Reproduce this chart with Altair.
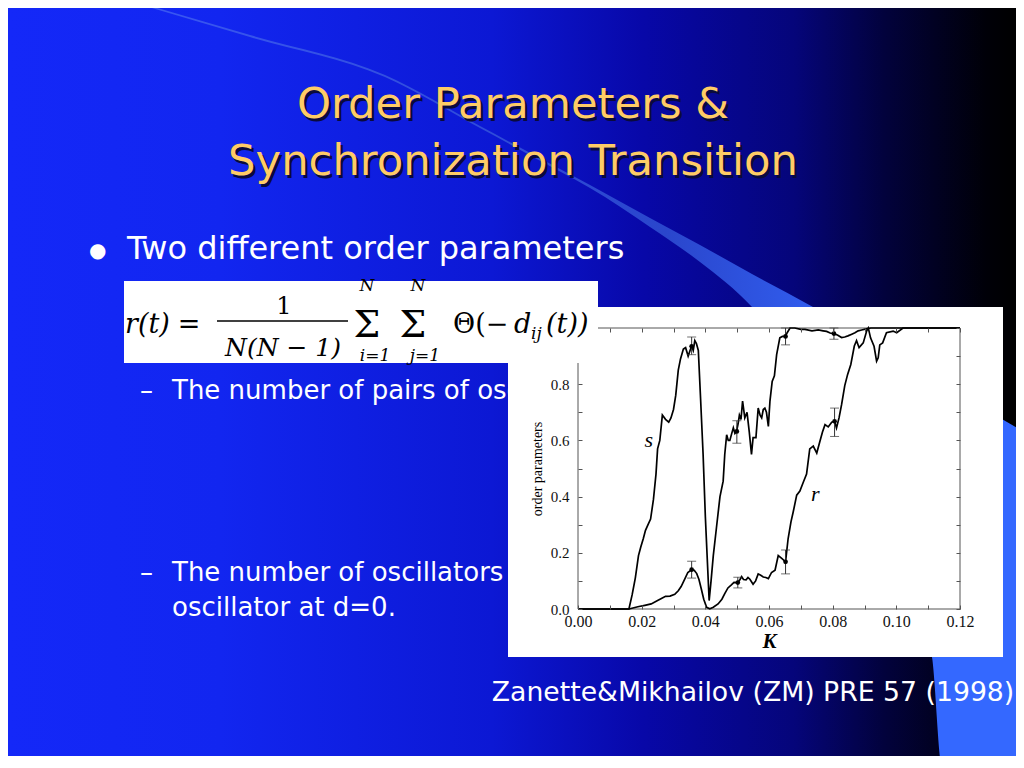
import altair as alt
import pandas as pd

# ---------------- data ----------------
s_K = [0.0, 0.0160, 0.0170, 0.0180, 0.0190, 0.0197, 0.0205, 0.0212, 0.0220, 0.0228,
       0.0237, 0.0245, 0.0250, 0.0257, 0.0265, 0.0275, 0.0285, 0.0292, 0.0300, 0.0307,
       0.0315, 0.0322, 0.0331, 0.0338, 0.0346, 0.0352, 0.0357, 0.0362, 0.0367, 0.0372,
       0.0378, 0.0385, 0.0393, 0.0400, 0.0406, 0.0412, 0.0418, 0.0425, 0.0435, 0.0446,
       0.0456, 0.0461, 0.0467, 0.0472, 0.0477, 0.0483, 0.0488, 0.0493, 0.0498, 0.0503,
       0.0507, 0.0512, 0.0517, 0.0524, 0.0531, 0.0538, 0.0545, 0.0550, 0.0559, 0.0566,
       0.0572, 0.0577, 0.0582, 0.0587, 0.0592, 0.0598, 0.0603, 0.0610, 0.0617, 0.0624,
       0.0634, 0.0642, 0.0650, 0.0658, 0.0666, 0.0681, 0.0700, 0.0713, 0.0735, 0.0755,
       0.0770, 0.0781, 0.0792, 0.0801, 0.0815, 0.0828, 0.0838, 0.0848, 0.0860, 0.0870,
       0.0880, 0.0891, 0.0905, 0.0920, 0.1000, 0.1100, 0.1200]
s_val = [0.0, 0.0, 0.05, 0.11, 0.19, 0.22, 0.25, 0.28, 0.30, 0.32,
         0.39, 0.48, 0.57, 0.60, 0.69, 0.675, 0.665, 0.68, 0.71, 0.76,
         0.85, 0.89, 0.925, 0.93, 0.90, 0.92, 0.935, 0.92, 0.955, 0.945,
         0.92, 0.75, 0.55, 0.33, 0.18, 0.03, 0.10, 0.19, 0.29, 0.40,
         0.455, 0.55, 0.62, 0.60, 0.60, 0.625, 0.645, 0.625, 0.632, 0.66,
         0.69, 0.675, 0.74, 0.68, 0.70, 0.63, 0.55, 0.61, 0.61, 0.715,
         0.69, 0.68, 0.71, 0.715, 0.70, 0.65, 0.74, 0.81, 0.83, 0.905,
         0.965, 0.97, 0.97, 0.985, 1.0, 1.0, 0.995, 0.995, 0.99, 0.993,
         0.99, 0.988, 0.982, 0.98, 0.975, 0.966, 0.968, 0.972, 0.978, 0.983,
         0.99, 0.993, 0.997, 1.0, 1.0, 1.0, 1.0]

r_K = [0.0, 0.0160, 0.0188, 0.0210, 0.0230, 0.0250, 0.0262, 0.0275, 0.0289, 0.0304,
       0.0315, 0.0324, 0.0336, 0.0345, 0.0357, 0.0365, 0.0373, 0.0380, 0.0387, 0.0395,
       0.0404, 0.0414, 0.0425, 0.0440, 0.0452, 0.0461, 0.0471, 0.0481, 0.0490, 0.0502,
       0.0509, 0.0514, 0.0520, 0.0528, 0.0534, 0.0540, 0.0550, 0.0558, 0.0566, 0.0574,
       0.0582, 0.0590, 0.0598, 0.0608, 0.0619, 0.0629, 0.0640, 0.0652, 0.0660, 0.0669,
       0.0676, 0.0687, 0.0697, 0.0708, 0.0718, 0.0728, 0.0739, 0.0750, 0.0760, 0.0768,
       0.0776, 0.0786, 0.0797, 0.0806, 0.0812, 0.0820, 0.0828, 0.0838, 0.0847, 0.0857,
       0.0868, 0.0875, 0.0883, 0.0896, 0.0907, 0.0912, 0.0919, 0.0930, 0.0938, 0.0943,
       0.0948, 0.0957, 0.0969, 0.0990, 0.1001, 0.1021, 0.1100, 0.1200]
r_val = [0.0, 0.0, 0.008, 0.013, 0.018, 0.030, 0.037, 0.045, 0.046, 0.052,
         0.065, 0.080, 0.108, 0.130, 0.140, 0.138, 0.126, 0.105, 0.073, 0.035,
         0.006, 0.001, 0.006, 0.018, 0.035, 0.055, 0.075, 0.085, 0.095, 0.094,
         0.105, 0.115, 0.105, 0.104, 0.112, 0.106, 0.088, 0.100, 0.125, 0.120,
         0.114, 0.112, 0.108, 0.130, 0.138, 0.190, 0.180, 0.168, 0.250, 0.310,
         0.345, 0.405, 0.420, 0.452, 0.480, 0.570, 0.580, 0.555, 0.597, 0.630,
         0.656, 0.648, 0.665, 0.668, 0.644, 0.680, 0.727, 0.795, 0.835, 0.870,
         0.936, 0.955, 0.930, 0.947, 0.990, 1.0, 0.965, 0.935, 0.882, 0.894,
         0.940, 0.947, 0.983, 0.989, 0.983, 1.0, 1.0, 1.0]

err_K = [0.0357, 0.0499, 0.0652, 0.0804, 0.0357, 0.0502, 0.0652, 0.0806]
err_mid = [0.935, 0.632, 0.970, 0.980, 0.140, 0.094, 0.168, 0.668]
err_lo = [0.905, 0.590, 0.940, 0.960, 0.110, 0.075, 0.125, 0.614]
err_hi = [0.968, 0.670, 1.000, 1.000, 0.170, 0.113, 0.210, 0.715]

curve_names = ["s", "r"]
curve_label_K = [0.0222, 0.0745]
curve_label_v = [0.600, 0.410]

x_tick_values = [0.00, 0.01, 0.02, 0.03, 0.04, 0.05, 0.06, 0.07, 0.08, 0.09, 0.10, 0.11, 0.12]
y_tick_values = [0.0, 0.1, 0.2, 0.3, 0.4, 0.5, 0.6, 0.7, 0.8, 0.9, 1.0]

title_lines = ["Order Parameters &", "Synchronization Transition"]
bullet_text = "Two different order parameters"
sub1_text = "The number of pairs of oscillators at d=0"
sub2a_text = "The number of oscillators in the cluster of the"
sub2b_text = "oscillator at d=0."
citation_text = "Zanette&Mikhailov (ZM) PRE 57 (1998)"

# ---------------- layout (page pixels) ----------------
OX, OY = 578, 328          # page position of the plot origin (K=0, top)
W, H = 382, 281
TOTAL_W, TOTAL_H = 1008, 748


def P(x):
    return x - OX


def Q(y):
    return y - OY


xs = alt.Scale(domain=[0, 0.12], nice=False, zero=False)
ys = alt.Scale(domain=[0, 1], nice=False, zero=False)


def text_layer(rows, font, color, align="left", style="normal", weight="normal",
               baseline="alphabetic"):
    df = pd.DataFrame(rows, columns=["t", "x", "y", "fs"])
    df["x"] = df["x"] - OX
    df["y"] = df["y"] - OY
    return alt.Chart(df).mark_text(
        font=font, color=color, align=align, fontStyle=style,
        fontWeight=weight, baseline=baseline
    ).encode(
        x=alt.X("x:Q", scale=None, axis=None),
        y=alt.Y("y:Q", scale=None, axis=None),
        size=alt.Size("fs:Q", scale=None, legend=None),
        text="t:N",
    )


one = pd.DataFrame({"a": [0]})

# background gradient
bg_grad = alt.LinearGradient(
    gradient="linear", x1=0, x2=1, y1=0, y2=0,
    stops=[
        alt.GradientStop(color="#1428f8", offset=0.0),
        alt.GradientStop(color="#1226f0", offset=0.21),
        alt.GradientStop(color="#0c18d4", offset=0.48),
        alt.GradientStop(color="#0808a8", offset=0.63),
        alt.GradientStop(color="#05057a", offset=0.78),
        alt.GradientStop(color="#02023c", offset=0.87),
        alt.GradientStop(color="#000008", offset=0.97),
        alt.GradientStop(color="#000000", offset=1.0),
    ],
)
background = alt.Chart(one).mark_rect(color=bg_grad).encode(
    x=alt.value(P(8)), x2=alt.value(P(8 + TOTAL_W)), y=alt.value(Q(8)), y2=alt.value(Q(8 + TOTAL_H))
)

# decorative ribbon
rib_x = [130, 250, 385, 480, 560, 590, 650, 700, 752, 813, 850, 900, 932, 942, 980, 1024]
rib_top = [0, 35, 75, 126, 169, 185, 218, 245, 274, 307, 329, 358, 377, 383, 406, 432]
rib_bot = [1.5, 37, 77, 128, 171.5, 188, 227, 262, 307, 390, 460, 565, 657, 768, 768, 768]
rib_df = pd.DataFrame({"x": [P(v) for v in rib_x], "y": [Q(v) for v in rib_top],
                       "y2": [Q(v) for v in rib_bot]})
rib_grad = alt.LinearGradient(
    gradient="linear", x1=0, x2=1, y1=0, y2=0,
    stops=[
        alt.GradientStop(color="#3a58f4", offset=0.0),
        alt.GradientStop(color="#2a46cc", offset=0.6),
        alt.GradientStop(color="#3468ff", offset=0.85),
        alt.GradientStop(color="#3468ff", offset=1.0),
    ],
)
ribbon = alt.Chart(rib_df).mark_area(color=rib_grad, interpolate="monotone").encode(
    x=alt.X("x:Q", scale=None, axis=None),
    y=alt.Y("y:Q", scale=None, axis=None),
    y2="y2:Q",
)

SANS = "DejaVu Sans"
title_shadow = text_layer([(title_lines[0], 515.5, 120.5, 43.3), (title_lines[1], 515.5, 177.5, 43.3)],
                          SANS, "#0a0a3c", align="center")
title = text_layer([(title_lines[0], 513, 118, 43.3), (title_lines[1], 513, 175, 43.3)],
                   SANS, "#ffcc66", align="center")
bullet_dot = text_layer([("●", 89, 257, 20)], SANS, "white")
bullets = text_layer([
    (bullet_text, 127, 259, 32),
    ("–", 140, 399, 26), (sub1_text, 172, 399, 26),
    ("–", 140, 581, 26), (sub2a_text, 172, 581, 26),
    (sub2b_text, 172, 616, 26),
], SANS, "white")
citation = text_layer([(citation_text, 753, 701, 26.7)], SANS, "white", align="center")

# white figure panel
panel = alt.Chart(one).mark_rect(color="white").encode(
    x=alt.value(P(508)), x2=alt.value(P(1003)), y=alt.value(Q(307)), y2=alt.value(Q(657))
)

frame_df = pd.DataFrame({"x1": [0, 0.12, 0, 0], "x2": [0, 0.12, 0.12, 0.12],
                         "y1": [0, 0, 0, 1], "y2": [1, 1, 0, 1]})
frame = alt.Chart(frame_df).mark_rule(color="#555555", strokeWidth=1).encode(
    x=alt.X("x1:Q", scale=xs, axis=None), x2="x2:Q",
    y=alt.Y("y1:Q", scale=ys, axis=None), y2="y2:Q",
)

SERIF = "Liberation Serif"
AX = dict(domain=False, grid=False, tickSize=4, offset=-4, tickColor="#555555",
          tickWidth=1, zindex=1, labelOverlap=False)

x_bottom = alt.Axis(
    orient="bottom", values=x_tick_values,
    labelExpr="round(datum.value*100) % 2 == 0 ? format(datum.value, '.2f') : ''",
    labelFont=SERIF, labelFontSize=16, labelColor="#111111", labelPadding=4,
    labelFlush=False, title="K", titleFont=SERIF, titleFontSize=21,
    titleFontStyle="italic", titleFontWeight="bold", titleColor="black",
    titlePadding=1, **AX)
y_left = alt.Axis(
    orient="left", values=y_tick_values[:9],
    labelExpr="round(datum.value*10) % 2 == 0 ? format(datum.value, '.1f') : ''",
    labelFont=SERIF, labelFontSize=15, labelColor="#111111", labelPadding=9,
    title="order parameters", titleFont=SERIF, titleFontSize=14,
    titleFontWeight="normal", titleColor="black", titlePadding=6, **AX)
x_top = alt.Axis(orient="top", values=x_tick_values[1:], labels=False, title=None, **AX)
y_right = alt.Axis(orient="right", values=y_tick_values, labels=False, title=None, **AX)

s_df = pd.DataFrame({"K": s_K, "v": s_val})
r_df = pd.DataFrame({"K": r_K, "v": r_val})
s_line = alt.Chart(s_df).mark_line(color="black", strokeWidth=1.7).encode(
    x=alt.X("K:Q", scale=xs, axis=x_bottom),
    y=alt.Y("v:Q", scale=ys, axis=y_left),
)
r_line = alt.Chart(r_df).mark_line(color="black", strokeWidth=1.7).encode(
    x=alt.X("K:Q", scale=xs, axis=x_top),
    y=alt.Y("v:Q", scale=ys, axis=y_right),
)

err_df = pd.DataFrame({"K": err_K, "mid": err_mid, "lo": err_lo, "hi": err_hi})
err_rule = alt.Chart(err_df).mark_rule(color="#333333", strokeWidth=1).encode(
    x=alt.X("K:Q", scale=xs, axis=None),
    y=alt.Y("lo:Q", scale=ys, axis=None), y2="hi:Q",
)
cap_lo = alt.Chart(err_df).mark_tick(orient="horizontal", size=9, thickness=1, color="#333333").encode(
    x=alt.X("K:Q", scale=xs, axis=None), y=alt.Y("lo:Q", scale=ys, axis=None))
cap_hi = alt.Chart(err_df).mark_tick(orient="horizontal", size=9, thickness=1, color="#333333").encode(
    x=alt.X("K:Q", scale=xs, axis=None), y=alt.Y("hi:Q", scale=ys, axis=None))
dots = alt.Chart(err_df).mark_circle(size=22, color="black", opacity=1).encode(
    x=alt.X("K:Q", scale=xs, axis=None), y=alt.Y("mid:Q", scale=ys, axis=None))

lab_df = pd.DataFrame({"lab": curve_names, "K": curve_label_K, "v": curve_label_v})
curve_labels = alt.Chart(lab_df).mark_text(font=SERIF, fontStyle="italic", fontSize=22,
                                           color="black").encode(
    x=alt.X("K:Q", scale=xs, axis=None), y=alt.Y("v:Q", scale=ys, axis=None), text="lab:N")

# formula box
fbox = alt.Chart(one).mark_rect(color="white").encode(
    x=alt.value(P(124)), x2=alt.value(P(598)), y=alt.value(Q(281)), y2=alt.value(Q(363))
)
fbar = alt.Chart(one).mark_rule(color="black", strokeWidth=1.3).encode(
    x=alt.value(P(217)), x2=alt.value(P(348)), y=alt.value(Q(321))
)
FSERIF = "DejaVu Serif"
f_norm_c = text_layer([("=", 189, 333, 27), ("1", 284, 314, 24),
                       ("Σ", 367, 337, 38), ("Σ", 413, 337, 38)], FSERIF, "black", align="center")
f_norm_l = text_layer([("Θ(−", 453, 333, 27)], FSERIF, "black")
f_ital_c = text_layer([("N(N − 1)", 283, 356, 25), ("N", 367, 291, 17), ("N", 418, 291, 17),
                       ("i=1", 375, 361, 17), ("j=1", 425, 361, 17)],
                      FSERIF, "black", align="center", style="italic")
f_ital_l = text_layer([("r(t)", 125, 333, 27), ("d", 514, 333, 27), ("ij", 531, 339, 17),
                       ("(t))", 546, 333, 27)], FSERIF, "black", style="italic")

chart = alt.layer(
    background, ribbon, title_shadow, title, bullet_dot, bullets, citation,
    panel, frame, s_line, r_line, err_rule, cap_lo, cap_hi, dots, curve_labels,
    fbox, fbar, f_norm_c, f_norm_l, f_ital_c, f_ital_l,
).resolve_axis(
    x="independent", y="independent"
).properties(
    width=W, height=H,
    autosize=alt.AutoSizeParams(type="none"),
    padding={"left": OX - 8, "top": OY - 8,
             "right": TOTAL_W - (OX - 8) - W, "bottom": TOTAL_H - (OY - 8) - H},
).configure_view(stroke=None).configure(background="#000010")

chart.save("out.html", embed_options={"renderer": "svg", "actions": False})
